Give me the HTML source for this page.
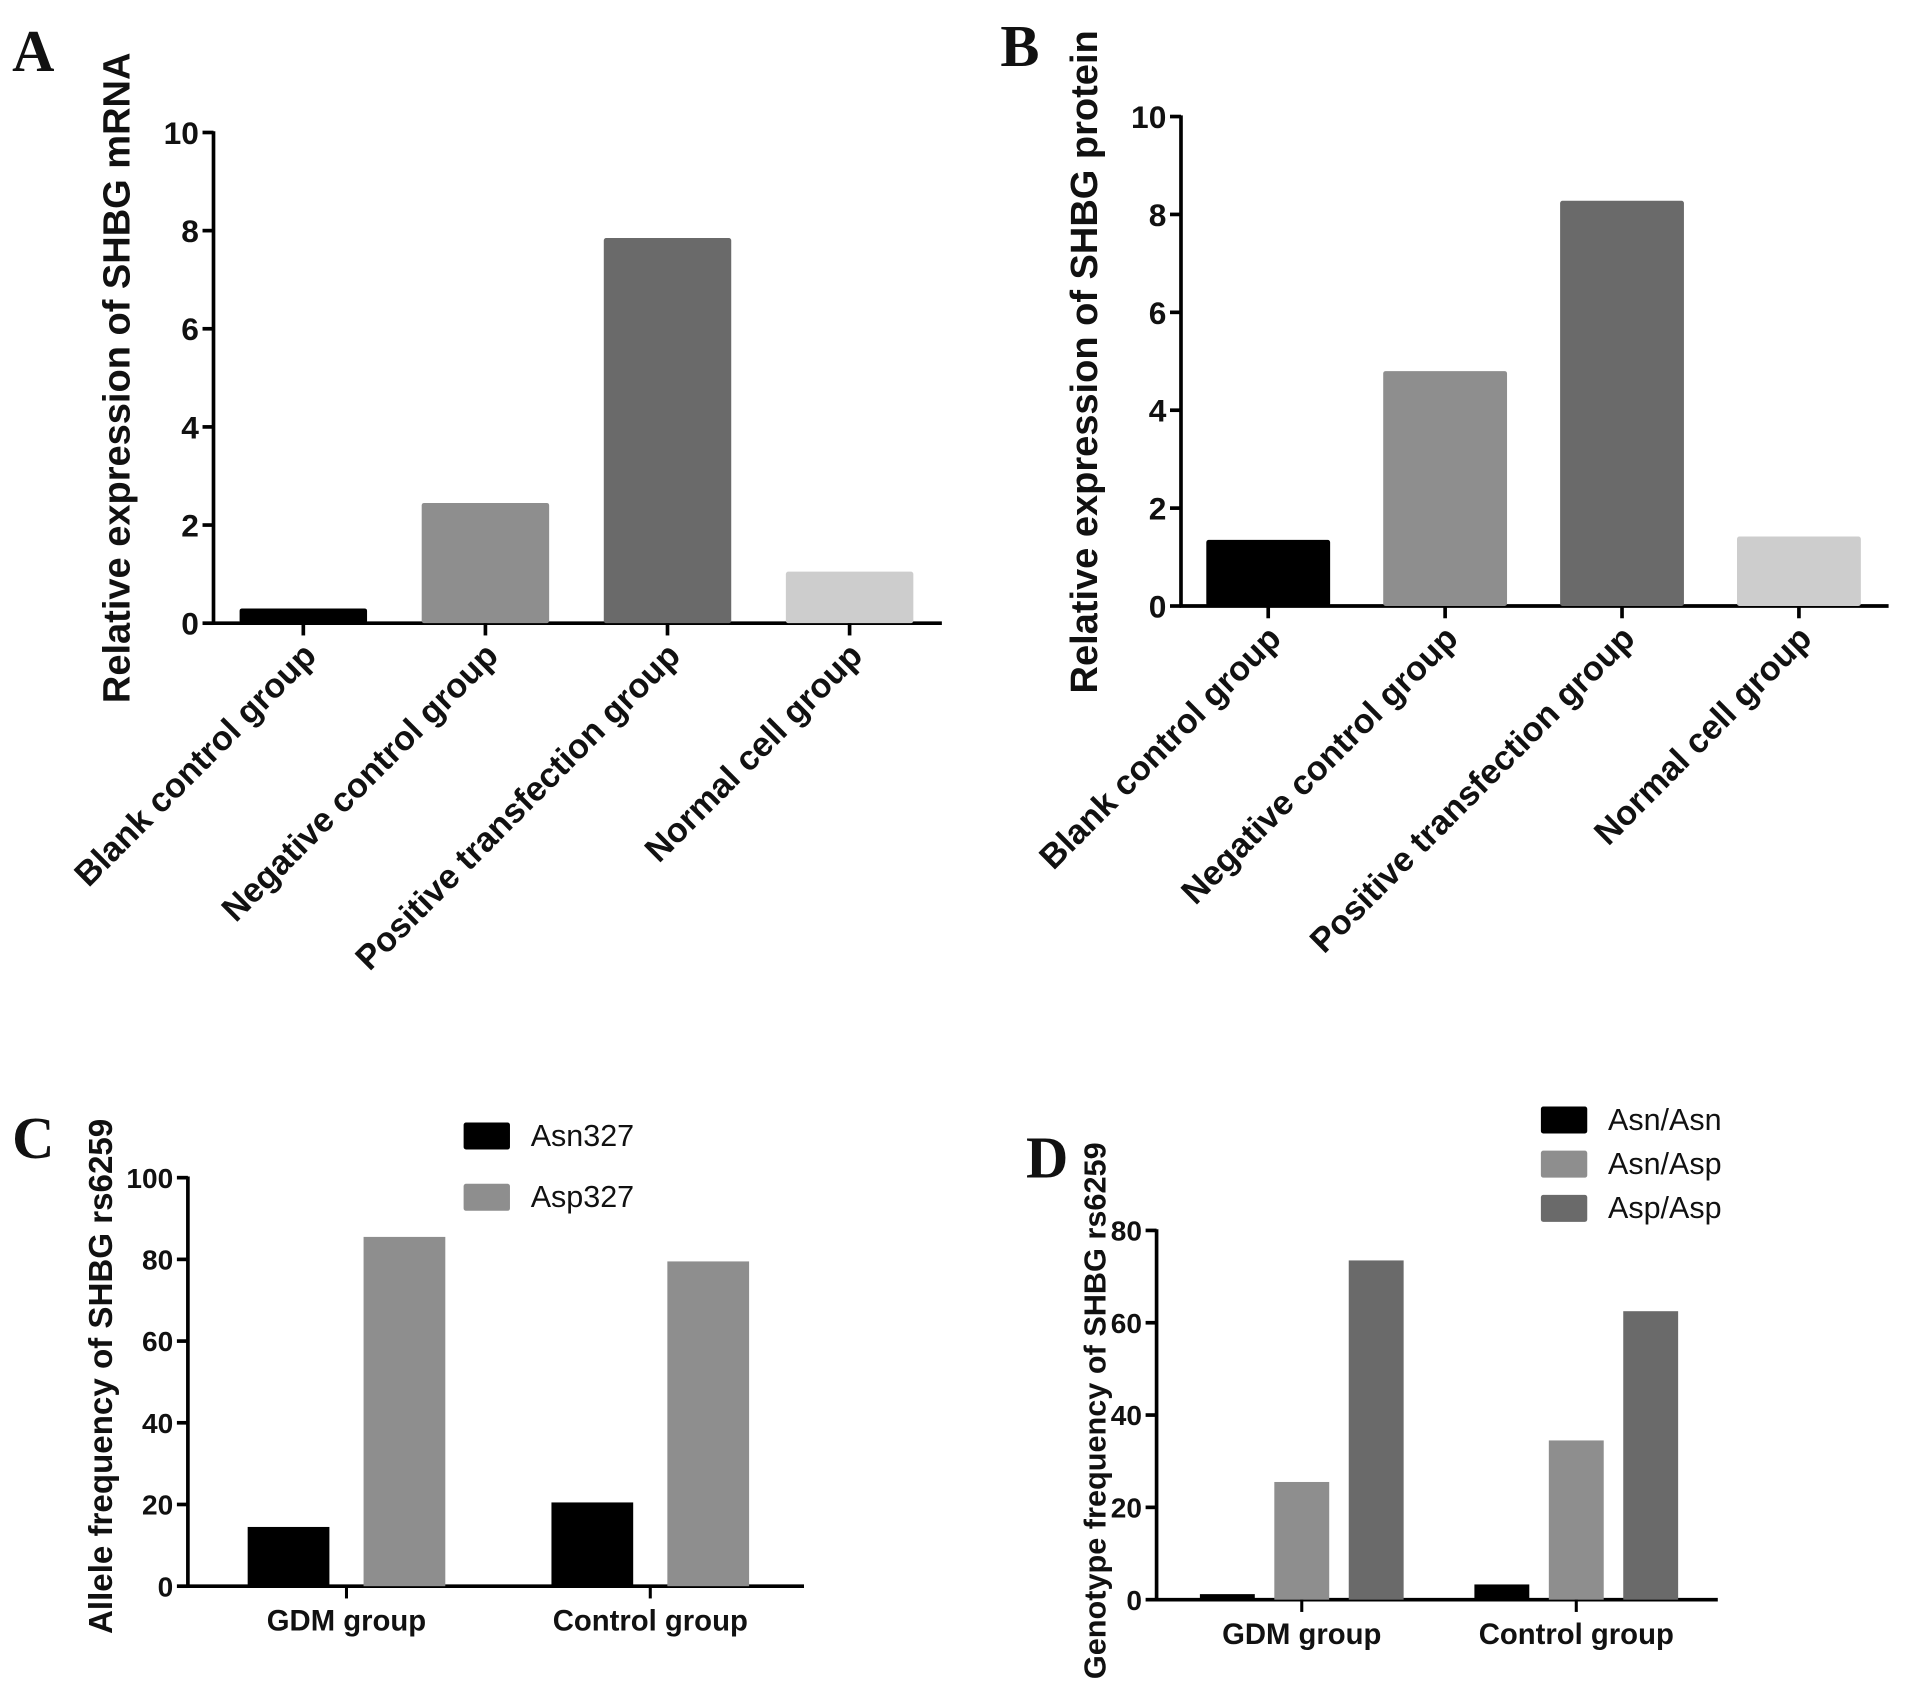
<!DOCTYPE html>
<html><head><meta charset="utf-8"><style>
html,body{margin:0;padding:0;background:#fff;}
svg{display:block;}
text{font-family:"Liberation Sans",sans-serif;font-weight:bold;fill:#111;}
.letter{font-family:"Liberation Serif",serif;font-size:48px;}
</style></head><body>
<svg id="fig" width="1913" height="1688" viewBox="0 0 1568 1376" preserveAspectRatio="none" xmlns="http://www.w3.org/2000/svg">
<text class="letter" x="10" y="58">A</text>
<text class="letter" x="820" y="54">B</text>
<text class="letter" x="10" y="944">C</text>
<text class="letter" x="841" y="960">D</text>
</svg>
<script>
const catsAB = ["Blank control group","Negative control group","Positive transfection group","Normal cell group"];
const valsA = [0.3, 2.45, 7.85, 1.05];
const valsB = [1.35, 4.8, 8.28, 1.42];
const colorsAB = ["#000000","#8e8e8e","#6a6a6a","#cdcdcd"];
const ticksAB = [0,2,4,6,8,10];
const groupsCD = ["GDM group","Control group"];
const seriesC = ["Asn327","Asp327"];
const valsCAsn = [14.5, 20.5];
const valsCAsp = [85.5, 79.5];
const ticksC = [0,20,40,60,80,100];
const seriesD = ["Asn/Asn","Asn/Asp","Asp/Asp"];
const valsDAsnAsn = [1.2, 3.3];
const valsDAsnAsp = [25.5, 34.5];
const valsDAspAsp = [73.5, 62.5];
const ticksD = [0,20,40,60,80];

const NS="http://www.w3.org/2000/svg";
const svg=document.getElementById('fig');
function mk(tag,attrs,parent){const e=document.createElementNS(NS,tag);for(const k in attrs)e.setAttribute(k,attrs[k]);(parent||svg).appendChild(e);return e;}

function axes(p){
  const y=v=>p.y0-(v-p.min)/(p.max-p.min)*(p.y0-p.y1);
  let ax=mk('line',{x1:p.x0,y1:p.y1-1,x2:p.x0,y2:p.y0+1,stroke:'#000','stroke-width':3});
  
  
  let bx=mk('line',{x1:p.x0-1,y1:p.y0,x2:p.xEnd,y2:p.y0,stroke:'#000','stroke-width':3});
  
  
  p.ticks.forEach(t=>{
    mk('line',{x1:p.x0-9,y1:y(t),x2:p.x0,y2:y(t),stroke:'#000','stroke-width':3});
    let tl=mk('text',{x:p.x0-12,y:y(t)+p.tfs*0.36,'text-anchor':'end','font-size':p.tfs});
    tl.textContent=t;
    
    
  });
  let tt=mk('text',{x:0,y:0,'text-anchor':'middle','font-size':p.titleFs,transform:`translate(${p.titleX},${p.titleY}) rotate(-90)`});
  tt.textContent=p.title;
  
  
  return y;
}

function panelAB(id,x0,y0,y1,xEnd,vals,title,titleX,titleY){
  const y=axes({id,x0,y0,y1,xEnd,min:0,max:10,ticks:ticksAB,tfs:26,title,titleFs:31,titleX,titleY});
  const step=(xEnd-x0)/catsAB.length;
  catsAB.forEach((c,i)=>{
    const cx=x0+step*(i+0.5)-1;
    const w=step*0.7;
    let r=mk('rect',{x:cx-w/2,y:y(vals[i]),width:w,height:y0-y(vals[i]),fill:colorsAB[i],rx:2});
    
    
    mk('line',{x1:cx,y1:y0,x2:cx,y2:y0+10,stroke:'#000','stroke-width':3});
    let l=mk('text',{x:0,y:0,'text-anchor':'end','font-size':28,transform:`translate(${cx+12},${y0+28}) rotate(-45)`});
    l.textContent=c;
    
    
  });
}
panelAB('chart-a',175,508,108,772,valsA,'Relative expression of SHBG mRNA',106,308);
panelAB('chart-b',968,494,95,1548,valsB,'Relative expression of SHBG protein',899,295);

function grouped(id,x0,y0,y1,xEnd,max,ticks,series,valsArr,colors,title,titleX,titleY,titleFs,centers,bw,gap,legX,legY,legDy){
  const y=axes({id,x0,y0,y1,xEnd,min:0,max,ticks,tfs:23,title,titleFs,titleX,titleY});
  const n=series.length;
  groupsCD.forEach((g,gi)=>{
    const c=centers[gi];
    const total=n*bw+(n-1)*gap;
    valsArr.forEach((vals,si)=>{
      const bx=c-total/2+si*(bw+gap);
      let r=mk('rect',{x:bx,y:y(vals[gi]),width:bw,height:y0-y(vals[gi]),fill:colors[si]});
      
      
    });
    mk('line',{x1:c,y1:y0,x2:c,y2:y0+10,stroke:'#000','stroke-width':2.5});
    let l=mk('text',{x:c,y:y0+36,'text-anchor':'middle','font-size':24});
    l.textContent=g;
    
    
  });
  series.forEach((s,si)=>{
    let r=mk('rect',{x:legX,y:legY+si*legDy,width:38,height:22,fill:colors[si],rx:2});
    
    
    let t=mk('text',{x:legX+55,y:legY+si*legDy+19,'font-size':25,style:'font-weight:normal'});
    t.textContent=s;
    
    
  });
}
grouped('chart-c',154,1293,960,659,100,ticksC,seriesC,[valsCAsn,valsCAsp],['#000','#8e8e8e'],
  'Allele frequency of SHBG rs6259',92,1122,27,[284,533],67,28,380,915,50);
grouped('chart-d',948,1304,1003,1408,80,ticksD,seriesD,[valsDAsnAsn,valsDAsnAsp,valsDAspAsp],['#000','#8e8e8e','#6a6a6a'],
  'Genotype frequency  of SHBG rs6259',906,1150,25,[1067,1292],45,16,1263,902,36);
</script>
</body></html>
